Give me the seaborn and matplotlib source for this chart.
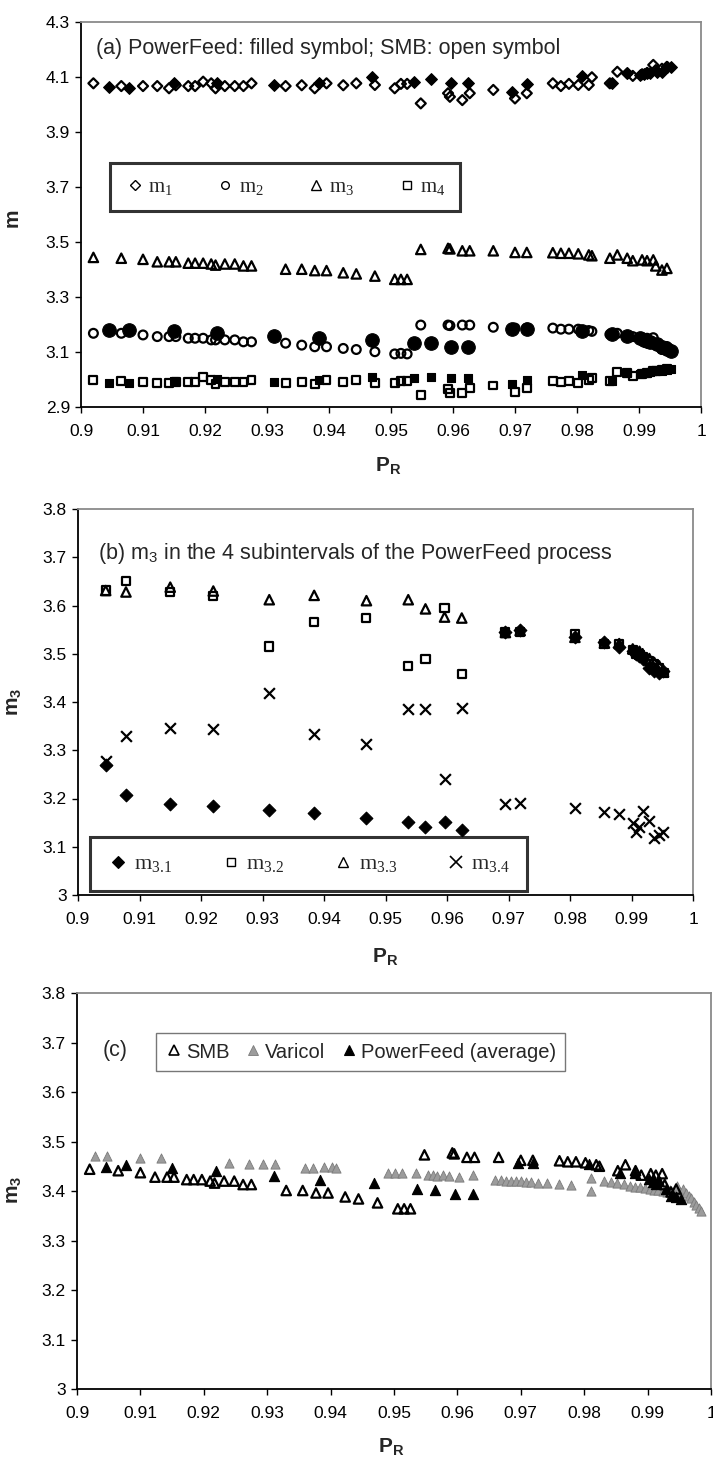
import numpy as np
import pandas as pd
import matplotlib
matplotlib.use("Agg")
import matplotlib.pyplot as plt
from matplotlib.lines import Line2D
from matplotlib.ticker import FuncFormatter
import seaborn as sns

# ---------------- (a) SMB operating points: m1..m4 versus P_R ----------------
smb_pr = [0.9020, 0.9065, 0.9100, 0.9123, 0.9142, 0.9153, 0.9173, 0.9184, 0.9197, 0.9210,
          0.9217, 0.9232, 0.9248, 0.9262, 0.9275, 0.9330, 0.9356, 0.9377, 0.9396, 0.9423,
          0.9444, 0.9474, 0.9506, 0.9516, 0.9526, 0.9548, 0.9592, 0.9595, 0.9615, 0.9627,
          0.9665, 0.9700, 0.9719, 0.9761, 0.9774, 0.9787, 0.9802, 0.9819, 0.9824, 0.9853,
          0.9865, 0.9881, 0.9890, 0.9905, 0.9913, 0.9923, 0.9927, 0.9937, 0.9945]
smb_m1 = [4.077, 4.067, 4.067, 4.067, 4.059, 4.070, 4.067, 4.067, 4.083, 4.077,
          4.059, 4.067, 4.067, 4.067, 4.077, 4.067, 4.070, 4.059, 4.077, 4.070,
          4.077, 4.071, 4.059, 4.075, 4.075, 4.004, 4.041, 4.028, 4.016, 4.041,
          4.053, 4.022, 4.041, 4.077, 4.067, 4.075, 4.071, 4.071, 4.099, 4.077,
          4.119, 4.113, 4.104, 4.110, 4.115, 4.144, 4.125, 4.130, 4.137]
smb_m2 = [3.168, 3.168, 3.162, 3.156, 3.156, 3.156, 3.150, 3.150, 3.150, 3.144,
          3.144, 3.144, 3.144, 3.137, 3.137, 3.132, 3.125, 3.119, 3.119, 3.113,
          3.109, 3.101, 3.093, 3.095, 3.093, 3.198, 3.198, 3.196, 3.198, 3.198,
          3.190, 3.187, 3.187, 3.187, 3.183, 3.183, 3.183, 3.178, 3.175, 3.164,
          3.168, 3.158, 3.156, 3.152, 3.150, 3.152, 3.125, 3.109, 3.120]
smb_m3 = [3.444, 3.441, 3.437, 3.428, 3.428, 3.428, 3.423, 3.423, 3.423, 3.420,
          3.416, 3.420, 3.420, 3.413, 3.413, 3.401, 3.401, 3.396, 3.396, 3.388,
          3.384, 3.376, 3.364, 3.364, 3.364, 3.473, 3.477, 3.475, 3.468, 3.468,
          3.468, 3.462, 3.462, 3.461, 3.459, 3.459, 3.457, 3.453, 3.450, 3.441,
          3.453, 3.441, 3.432, 3.435, 3.432, 3.435, 3.413, 3.398, 3.404]
smb_m4 = [2.999, 2.996, 2.992, 2.988, 2.988, 2.992, 2.992, 2.992, 3.008, 2.999,
          2.984, 2.992, 2.992, 2.992, 2.999, 2.986, 2.992, 2.984, 2.999, 2.992,
          2.998, 2.988, 2.986, 2.996, 2.996, 2.944, 2.964, 2.950, 2.950, 2.968,
          2.978, 2.956, 2.968, 2.996, 2.992, 2.996, 2.988, 2.999, 3.006, 2.996,
          3.028, 3.025, 3.013, 3.020, 3.025, 3.030, 3.030, 3.035, 3.040]

# ---------------- PowerFeed operating points ----------------
pf_pr = [0.9045, 0.9078, 0.9150, 0.9220, 0.9311, 0.9384, 0.9469, 0.9537, 0.9565, 0.9596,
         0.9624, 0.9695, 0.9719, 0.9808, 0.9856, 0.9880, 0.9902, 0.9908, 0.9913, 0.9918,
         0.9929, 0.9937, 0.9945, 0.9952]
pf_m1 = [4.062, 4.059, 4.079, 4.079, 4.071, 4.077, 4.101, 4.083, 4.093, 4.079,
         4.079, 4.047, 4.075, 4.104, 4.077, 4.113, 4.107, 4.110, 4.113, 4.115,
         4.118, 4.120, 4.135, 4.137]
pf_m2 = [3.180, 3.180, 3.177, 3.170, 3.158, 3.150, 3.144, 3.134, 3.134, 3.119,
         3.119, 3.185, 3.185, 3.175, 3.164, 3.158, 3.150, 3.145, 3.140, 3.135,
         3.130, 3.120, 3.110, 3.105]
pf_m4 = [2.988, 2.986, 2.995, 3.002, 2.992, 2.999, 3.010, 3.004, 3.010, 3.004,
         3.004, 2.984, 2.998, 3.016, 2.996, 3.025, 3.020, 3.022, 3.025, 3.027,
         3.030, 3.032, 3.035, 3.040]

# (b) m3 in the four PowerFeed subintervals
pf_m3_1 = [3.270, 3.207, 3.189, 3.185, 3.176, 3.169, 3.159, 3.152, 3.140, 3.152,
           3.135, 3.545, 3.550, 3.535, 3.525, 3.515, 3.505, 3.500, 3.495, 3.490,
           3.470, 3.465, 3.460, 3.465]
pf_m3_2 = [3.631, 3.651, 3.628, 3.620, 3.515, 3.565, 3.574, 3.475, 3.489, 3.595,
           3.458, 3.544, 3.545, 3.540, 3.520, 3.520, 3.508, 3.500, 3.498, 3.494,
           3.485, 3.478, 3.470, 3.460]
pf_m3_3 = [3.631, 3.628, 3.638, 3.630, 3.612, 3.621, 3.610, 3.612, 3.593, 3.576,
           3.574, 3.544, 3.548, 3.534, 3.522, 3.521, 3.510, 3.505, 3.505, 3.500,
           3.490, 3.482, 3.475, 3.462]
pf_m3_4 = [3.277, 3.330, 3.346, 3.344, 3.419, 3.334, 3.313, 3.386, 3.386, 3.241,
           3.388, 3.188, 3.190, 3.181, 3.171, 3.167, 3.150, 3.131, 3.140, 3.174,
           3.153, 3.118, 3.125, 3.131]

# (c) PowerFeed average m3
pf_m3_avg = [3.449, 3.453, 3.447, 3.441, 3.430, 3.422, 3.417, 3.405, 3.403, 3.394,
             3.393, 3.457, 3.457, 3.455, 3.437, 3.436, 3.425, 3.418, 3.415, 3.420,
             3.405, 3.390, 3.388, 3.383]

# (c) Varicol operating points
varicol_pr = [0.9029, 0.9047, 0.9099, 0.9133, 0.9239, 0.9271, 0.9293, 0.9312, 0.9359, 0.9373,
              0.9389, 0.9402, 0.9408, 0.9491, 0.9502, 0.9513, 0.9535, 0.9553, 0.9561, 0.9568,
              0.9577, 0.9586, 0.9603, 0.9624, 0.9660, 0.9668, 0.9676, 0.9684, 0.9692, 0.9700,
              0.9708, 0.9716, 0.9727, 0.9742, 0.9760, 0.9779, 0.9811, 0.9811, 0.9832, 0.9842,
              0.9852, 0.9862, 0.9872, 0.9880, 0.9888, 0.9896, 0.9903, 0.9910, 0.9917, 0.9924,
              0.9930, 0.9936, 0.9941, 0.9946, 0.9951, 0.9956, 0.9961, 0.9965, 0.9969, 0.9973,
              0.9977, 0.9981, 0.9984]
varicol_m3 = [3.471, 3.471, 3.466, 3.466, 3.457, 3.455, 3.455, 3.455, 3.446, 3.446,
              3.449, 3.449, 3.446, 3.436, 3.436, 3.436, 3.436, 3.432, 3.432, 3.430,
              3.432, 3.430, 3.429, 3.432, 3.422, 3.422, 3.421, 3.421, 3.420, 3.420,
              3.419, 3.418, 3.417, 3.416, 3.415, 3.413, 3.427, 3.399, 3.421, 3.419,
              3.416, 3.414, 3.411, 3.409, 3.408, 3.406, 3.405, 3.403, 3.402, 3.400,
              3.398, 3.403, 3.400, 3.410, 3.398, 3.405, 3.395, 3.390, 3.385, 3.378,
              3.372, 3.365, 3.360]

x_ticks = [0.90, 0.91, 0.92, 0.93, 0.94, 0.95, 0.96, 0.97, 0.98, 0.99, 1.00]
a_yticks = [2.9, 3.1, 3.3, 3.5, 3.7, 3.9, 4.1, 4.3]
bc_yticks = [3.0, 3.1, 3.2, 3.3, 3.4, 3.5, 3.6, 3.7, 3.8]

sns.set_style("ticks")
plt.rcParams["font.family"] = ["Liberation Sans", "DejaVu Sans"]
plt.rcParams["mathtext.fontset"] = "custom"
plt.rcParams["mathtext.rm"] = "Liberation Sans"
plt.rcParams["mathtext.bf"] = "Liberation Sans:bold"
plt.rcParams["mathtext.it"] = "Liberation Sans:italic"

W, H = 713, 1458
fig = plt.figure(figsize=(W / 100, H / 100), dpi=100)


def px_axes(left, top, right, bottom):
    return fig.add_axes([left / W, 1 - bottom / H, (right - left) / W, (bottom - top) / H])


ax_a = px_axes(81, 22, 701, 407)
ax_b = px_axes(78, 509, 693, 895)
ax_c = px_axes(77, 993, 711, 1389)

fmt = FuncFormatter(lambda v, _: f"{v:g}")


def style(ax, ylim, yticks):
    ax.set_xlim(0.9, 1.0)
    ax.set_ylim(*ylim)
    ax.set_xticks(x_ticks)
    ax.set_yticks(yticks)
    ax.xaxis.set_major_formatter(fmt)
    ax.yaxis.set_major_formatter(fmt)
    ax.tick_params(axis="both", direction="out", length=4, width=1, labelsize=12.5,
                   colors="black")
    ax.tick_params(axis="x", pad=8)
    ax.tick_params(axis="y", pad=4)
    for side in ("left", "bottom"):
        ax.spines[side].set_color("black")
        ax.spines[side].set_linewidth(1.3)
    for side in ("top", "right"):
        ax.spines[side].set_visible(True)
        ax.spines[side].set_color("#8a8a8a")
        ax.spines[side].set_linewidth(1.3)
    ax.set_xlabel("")
    ax.set_ylabel("")


def scat(ax, x, y, marker, s, fc, ec, lw=1.6, z=3):
    sns.scatterplot(x=x, y=y, ax=ax, marker=marker, s=s, facecolor=fc,
                    edgecolor=ec, linewidth=lw, zorder=z, legend=False)


# ---------------- panel (a) ----------------
scat(ax_a, smb_pr, smb_m1, "D", 26, "none", "black")
scat(ax_a, pf_pr, pf_m1, "D", 36, "black", "black", 0.8, 4)
scat(ax_a, smb_pr, smb_m2, "o", 40, "none", "black")
scat(ax_a, pf_pr, pf_m2, "o", 95, "black", "black", 0.8, 4)
scat(ax_a, smb_pr, smb_m3, "^", 46, "none", "black")
scat(ax_a, smb_pr, smb_m4, "s", 32, "none", "black")
scat(ax_a, pf_pr, pf_m4, "s", 40, "black", "black", 0.8, 4)
style(ax_a, (2.9, 4.3), a_yticks)
ax_a.text(0.024, 0.93, "(a) PowerFeed: filled symbol; SMB: open symbol",
          transform=ax_a.transAxes, fontsize=15.5, va="center", ha="left")

serif = {"family": ["Liberation Serif", "DejaVu Serif"], "size": 15}
h_a = [Line2D([], [], ls="none", marker="D", ms=5.5, mfc="none", mec="black", mew=1.0),
       Line2D([], [], ls="none", marker="o", ms=5.5, mfc="none", mec="black", mew=1.0),
       Line2D([], [], ls="none", marker="^", ms=6.5, mfc="none", mec="black", mew=1.0),
       Line2D([], [], ls="none", marker="s", ms=5.5, mfc="none", mec="black", mew=1.0)]
l_a = [r"$\mathregular{m_1}$", r"$\mathregular{m_2}$", r"$\mathregular{m_3}$", r"$\mathregular{m_4}$"]
leg_a = ax_a.legend(h_a, l_a, ncol=4, prop=serif, loc="center",
                    bbox_to_anchor=((108 + 462) / 2 / W, 1 - 187 / H),
                    bbox_transform=fig.transFigure, frameon=True, fancybox=False,
                    handletextpad=0.15, columnspacing=2.0, borderpad=0.7, handlelength=1.0)
leg_a.get_frame().set_edgecolor("black")
leg_a.get_frame().set_linewidth(2.2)

fig.text(12 / W, 1 - 218 / H, "m", rotation=90, ha="center", va="center",
         fontsize=15, fontweight="bold")
fig.text(388 / W, 1 - 466 / H, r"$\mathregular{P_R}$", ha="center", va="center",
         fontsize=15, fontweight="bold")

# ---------------- panel (b) ----------------
scat(ax_b, pf_pr, pf_m3_1, "D", 42, "black", "black", 0.8, 3)
scat(ax_b, pf_pr, pf_m3_2, "s", 34, "none", "black", 1.6, 4)
scat(ax_b, pf_pr, pf_m3_3, "^", 46, "none", "black", 1.6, 5)
sns.scatterplot(x=pf_pr, y=pf_m3_4, ax=ax_b, marker="x", s=60, color="black",
                linewidth=1.6, zorder=6, legend=False)
style(ax_b, (3.0, 3.8), bc_yticks)
ax_b.text(0.033, 0.885, r"(b) $\mathregular{m_3}$ in the 4 subintervals of the PowerFeed process",
          transform=ax_b.transAxes, fontsize=15.5, va="center", ha="left")

serif_b = {"family": ["Liberation Serif", "DejaVu Serif"], "size": 16}
h_b = [Line2D([], [], ls="none", marker="D", ms=6.5, mfc="black", mec="black", mew=0.8),
       Line2D([], [], ls="none", marker="s", ms=6.0, mfc="none", mec="black", mew=1.0),
       Line2D([], [], ls="none", marker="^", ms=7.0, mfc="none", mec="black", mew=1.0),
       Line2D([], [], ls="none", marker="x", ms=8.0, mec="black", mew=1.2)]
l_b = [r"$\mathregular{m_{3.1}}$", r"$\mathregular{m_{3.2}}$",
       r"$\mathregular{m_{3.3}}$", r"$\mathregular{m_{3.4}}$"]
leg_b = ax_b.legend(h_b, l_b, ncol=4, prop=serif_b, loc="center",
                    bbox_to_anchor=((90 + 527) / 2 / W, 1 - 864 / H),
                    bbox_transform=fig.transFigure, frameon=True, fancybox=False,
                    handletextpad=0.2, columnspacing=2.15, borderpad=0.75, handlelength=1.0)
leg_b.get_frame().set_edgecolor("black")
leg_b.get_frame().set_linewidth(2.2)

fig.text(14 / W, 1 - 702 / H, r"$\mathregular{m_3}$", rotation=90, ha="center", va="center",
         fontsize=15, fontweight="bold")
fig.text(385 / W, 1 - 957 / H, r"$\mathregular{P_R}$", ha="center", va="center",
         fontsize=15, fontweight="bold")

# ---------------- panel (c) ----------------
scat(ax_c, varicol_pr, varicol_m3, "^", 44, "#9c9c9c", "#7a7a7a", 0.6, 3)
scat(ax_c, smb_pr, smb_m3, "^", 46, "none", "black", 1.6, 4)
scat(ax_c, pf_pr, pf_m3_avg, "^", 54, "black", "black", 0.8, 5)
style(ax_c, (3.0, 3.8), bc_yticks)
ax_c.text(0.04, 0.855, "(c)", transform=ax_c.transAxes, fontsize=15.5, va="center", ha="left")

h_c = [Line2D([], [], ls="none", marker="^", ms=6.5, mfc="none", mec="black", mew=1.2),
       Line2D([], [], ls="none", marker="^", ms=6.5, mfc="#9c9c9c", mec="#7a7a7a", mew=0.6),
       Line2D([], [], ls="none", marker="^", ms=7.5, mfc="black", mec="black", mew=0.8)]
leg_c = ax_c.legend(h_c, ["SMB", "Varicol", "PowerFeed (average)"], ncol=3,
                    prop={"size": 14.5}, loc="center",
                    bbox_to_anchor=((155 + 566) / 2 / W, 1 - 1052 / H),
                    bbox_transform=fig.transFigure, frameon=True, fancybox=False,
                    handletextpad=0.15, columnspacing=0.7, borderpad=0.45, handlelength=0.9)
leg_c.get_frame().set_edgecolor("#555555")
leg_c.get_frame().set_linewidth(1.0)

fig.text(15 / W, 1 - 1190 / H, r"$\mathregular{m_3}$", rotation=90, ha="center", va="center",
         fontsize=15, fontweight="bold")
fig.text(391 / W, 1 - 1447 / H, r"$\mathregular{P_R}$", ha="center", va="center",
         fontsize=15, fontweight="bold")

fig.savefig("out.png", dpi=100, facecolor="white")
